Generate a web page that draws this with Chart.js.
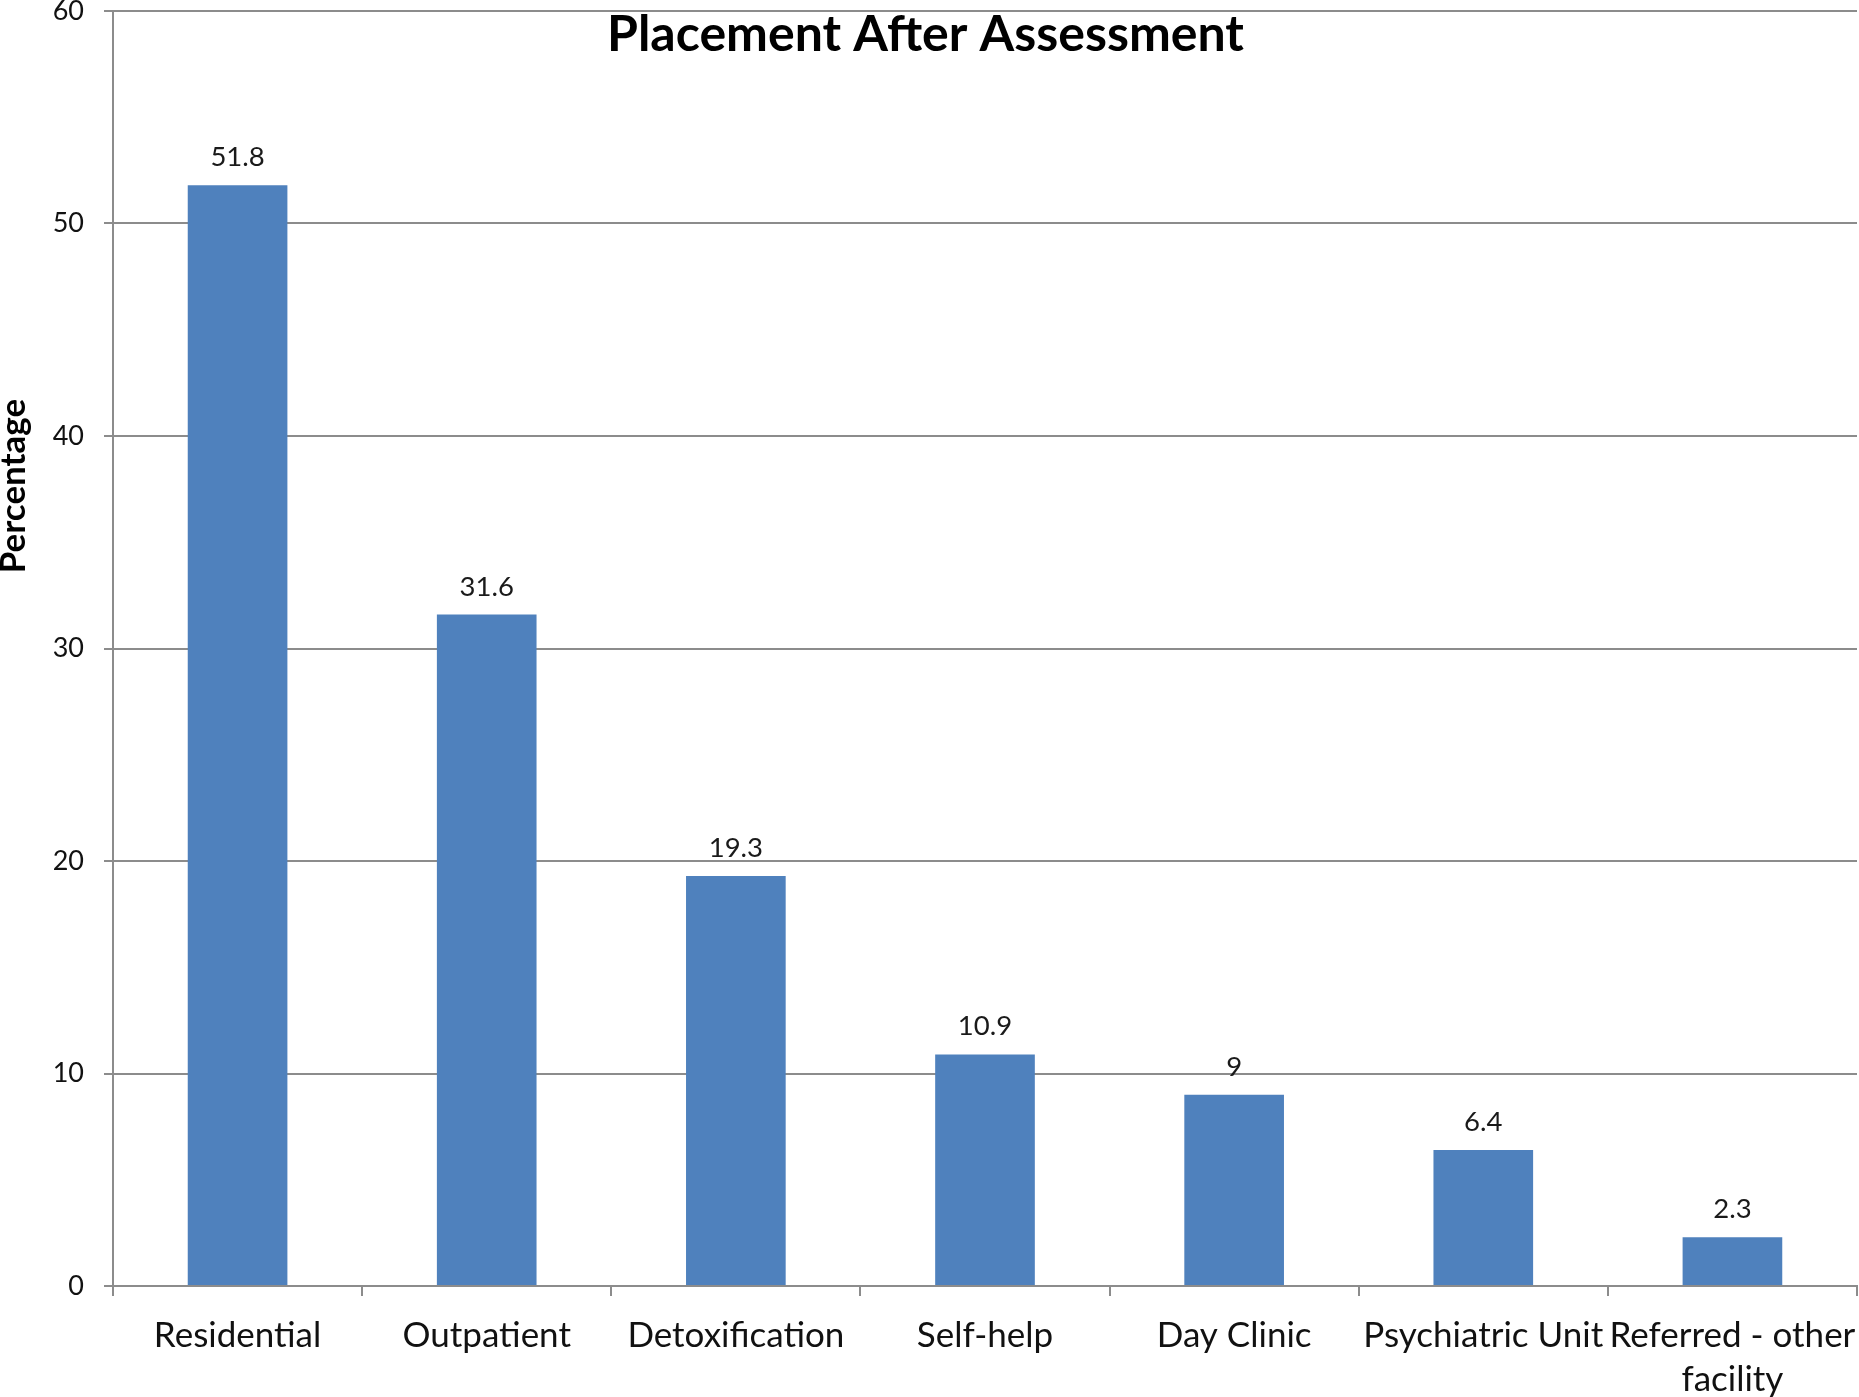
<!DOCTYPE html>
<html>
<head>
<meta charset="utf-8">
<script src="https://cdn.jsdelivr.net/npm/chart.js@4.4.1/dist/chart.umd.min.js"></script>
<style>
  html, body { margin: 0; padding: 0; background: #fff; }
  #wrap { width: 1859px; height: 1397px; position: relative; }
</style>
</head>
<body>
<div id="wrap"><canvas id="placementChart" width="1859" height="1397"></canvas></div>
<script>
const categories = ['Residential', 'Outpatient', 'Detoxification', 'Self-help', 'Day Clinic', 'Psychiatric Unit', ['Referred - other', 'facility']];
const percentages = [51.8, 31.6, 19.3, 10.9, 9, 6.4, 2.3];
const yTicks = [0, 10, 20, 30, 40, 50, 60];

const FONT = 'Lato, "Open Sans", sans-serif';
const GRID = '#8c8c8c';

// title, rotated y label and the value on top of each bar
const overlayText = {
  id: 'overlayText',
  afterDatasetsDraw(chart) {
    const ctx = chart.ctx;
    ctx.save();
    ctx.fillStyle = '#1a1a1a';
    ctx.font = '27.5px ' + FONT;
    ctx.textAlign = 'center';
    ctx.textBaseline = 'alphabetic';
    const meta = chart.getDatasetMeta(0);
    meta.data.forEach((bar, i) => {
      ctx.fillText(String(percentages[i]), bar.x, bar.y - 19);
    });

    ctx.fillStyle = '#000';
    ctx.font = 'bold 50px ' + FONT;
    ctx.fillText('Placement After Assessment', chart.width / 2 - 4, 51);

    ctx.translate(25, 486);
    ctx.rotate(-Math.PI / 2);
    ctx.font = 'bold 35px ' + FONT;
    ctx.fillText('Percentage', 0, 0);
    ctx.restore();
  }
};

const ctx = document.getElementById('placementChart').getContext('2d');
const chart = new Chart(ctx, {
  type: 'bar',
  data: {
    labels: categories,
    datasets: [{
      data: percentages,
      backgroundColor: '#4f81bd',
      borderWidth: 0,
      categoryPercentage: 1,
      barPercentage: 0.4
    }]
  },
  plugins: [overlayText],
  options: {
    responsive: false,
    animation: false,
    layout: { padding: { top: 11, right: 2, left: 0, bottom: 0 } },
    plugins: {
      legend: { display: false },
      tooltip: { enabled: false },
      title: { display: false }
    },
    scales: {
      x: {
        grid: {
          offset: true,
          drawOnChartArea: false,
          drawTicks: true,
          tickLength: 10,
          color: GRID,
          lineWidth: 2
        },
        border: { color: GRID, width: 2 },
        ticks: {
          autoSkip: false,
          maxRotation: 0,
          minRotation: 0,
          padding: 18,
          color: '#111',
          font: { family: FONT, size: 35, lineHeight: 1.25 }
        },
        afterFit: (s) => {
          s.height = 111;
          s.paddingLeft = 0;
          s.paddingRight = 0;
        }
      },
      y: {
        min: 0,
        max: 60,
        afterBuildTicks: (s) => { s.ticks = yTicks.map(v => ({ value: v })); },
        grid: {
          color: GRID,
          lineWidth: 2,
          tickLength: 9
        },
        border: { color: GRID, width: 2 },
        ticks: {
          padding: 20,
          color: '#111',
          font: { family: FONT, size: 27 }
        },
        afterFit: (s) => {
          s.width = 113;
          s.paddingTop = 0;
          s.paddingBottom = 0;
        }
      }
    }
  }
});
</script>
</body>
</html>
